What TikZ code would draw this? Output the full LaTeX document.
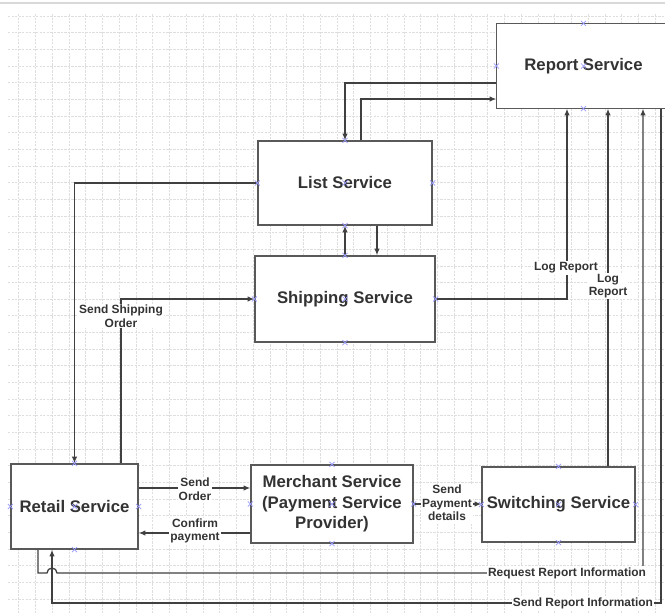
\documentclass[tikz,border=0pt]{standalone}
\usepackage{fontspec}
\setmainfont{Liberation Sans}
\usetikzlibrary{arrows.meta,calc,shapes.misc}

\begin{document}
\begin{tikzpicture}[x=0.3mm,y=-0.3mm,
    service/.style={draw=black!65, line width=1.1pt, fill=white, text=black!80,
      font=\fontsize{14.3}{17.4}\selectfont\bfseries, align=center, inner sep=0pt},
    flow/.style={draw=black!75, line width=1.1pt, -{Latex[length=2mm,width=1.6mm]}},
    lbl/.style={fill=white, text=black!80, font=\fontsize{10.2}{11.5}\selectfont\bfseries,
      align=center, inner sep=1pt},
    conpt/.style={cross out, draw=blue!40, line width=0.6pt, minimum size=1.3mm, inner sep=0pt},
    gridline/.style={draw=black!13, line width=0.4pt, dash pattern=on 2pt off 1pt}]
          \def\px{0.3mm} % one pixel of the sheet

          \useasboundingbox (0,0) rectangle (665,613);
          \fill[white] (0,0) rectangle (665,613);
          \draw[black!15, line width=1.2pt] (0,3) -- (665,3);

          % Background grid
          \foreach \gx in {18.5,35.25,...,665}
            \draw[gridline] (\gx,14) -- (\gx,613);
          \foreach \gy in {16,32.65,...,613}
            \draw[gridline] (8,\gy) -- (665,\gy);

          % Define services (the report box runs off the sheet on the right)
          \node[service, draw=none, minimum width=173*\px, minimum height=84*\px] (report) at (583.5,66) {Report Service};
          \draw[black!65, line width=1.1pt] (report.north -| 665,0) -- (report.north west)
            -- (report.south west) -- (report.south -| 665,0);
          \node[service, minimum width=174*\px, minimum height=84*\px] (list) at (345,183) {List Service};
          \node[service, minimum width=180*\px, minimum height=86*\px] (ship) at (345,299) {Shipping Service};
          \node[service, minimum width=127*\px, minimum height=85*\px] (retail) at (74.5,506.5) {Retail Service};
          \node[service, minimum width=162*\px, minimum height=78*\px] (merchant) at (332,504) {Merchant Service\\(Payment Service\\Provider)};
          \node[service, minimum width=153*\px, minimum height=75*\px] (switch) at (558.5,504.5) {Switching Service};

          % Draw flows
          \draw[flow] (report.west |- 0,83) -| (list.north);
          \draw[flow] ($(list.north)+(16,0)$) |- (report.west |- 0,99);
          \draw[flow] (ship.north) -- (list.south);
          \draw[flow] (list.south -| 377,0) -- (ship.north -| 377,0);
          \draw[flow] (list.west) -| (retail.north);
          \draw[flow] (retail.north -| 121,0) |- (ship.west);
          \draw[flow] (ship.east) -| (report.south -| 567,0);
          \draw[flow] (switch.north -| 608,0) -- (report.south -| 608,0);
          \draw[flow] (retail.east |- 0,488) -- (merchant.west |- 0,488);
          \draw[flow] (merchant.west |- 0,533) -- (retail.east |- 0,533);
          \draw[flow] (merchant.east) -- (switch.west |- merchant.east);
          \draw[flow] (retail.south -| 38,0) |- (47,573) arc[start angle=180, end angle=360, radius=5]
            -- (643,573) -- (report.south -| 643,0);
          \draw[flow] (report.south -| 661,0) |- (52,603) -- (retail.south -| 52,0);

          % Label flows
          \node[lbl] (shiplbl) at (121,316) {Send Shipping\\Order};
          \node[lbl] (loglbl) at (566,268) {Log Report};
          \node[lbl] (swloglbl) at (608,286) {Log\\Report};
          \node[lbl] (orderlbl) at (195,489) {Send\\Order};
          \node[lbl] (confirmlbl) at (195,531) {Confirm\\payment};
          \node[lbl] (paylbl) at (447,503) {Send\\Payment\\details};
          \node[lbl] (reqlbl) at (567,573) {Request Report Information};
          \node[lbl] (sendlbl) at (583,603) {Send Report Information};

          % Connection points
          \foreach \b in {list,ship,retail,merchant,switch} {
            \foreach \a in {north,south,east,west,center}
              \node[conpt] at (\b.\a) {};
          }
          \foreach \a in {north,south,west,center}
            \node[conpt] at (report.\a) {};
    \end{tikzpicture}
\end{document}
